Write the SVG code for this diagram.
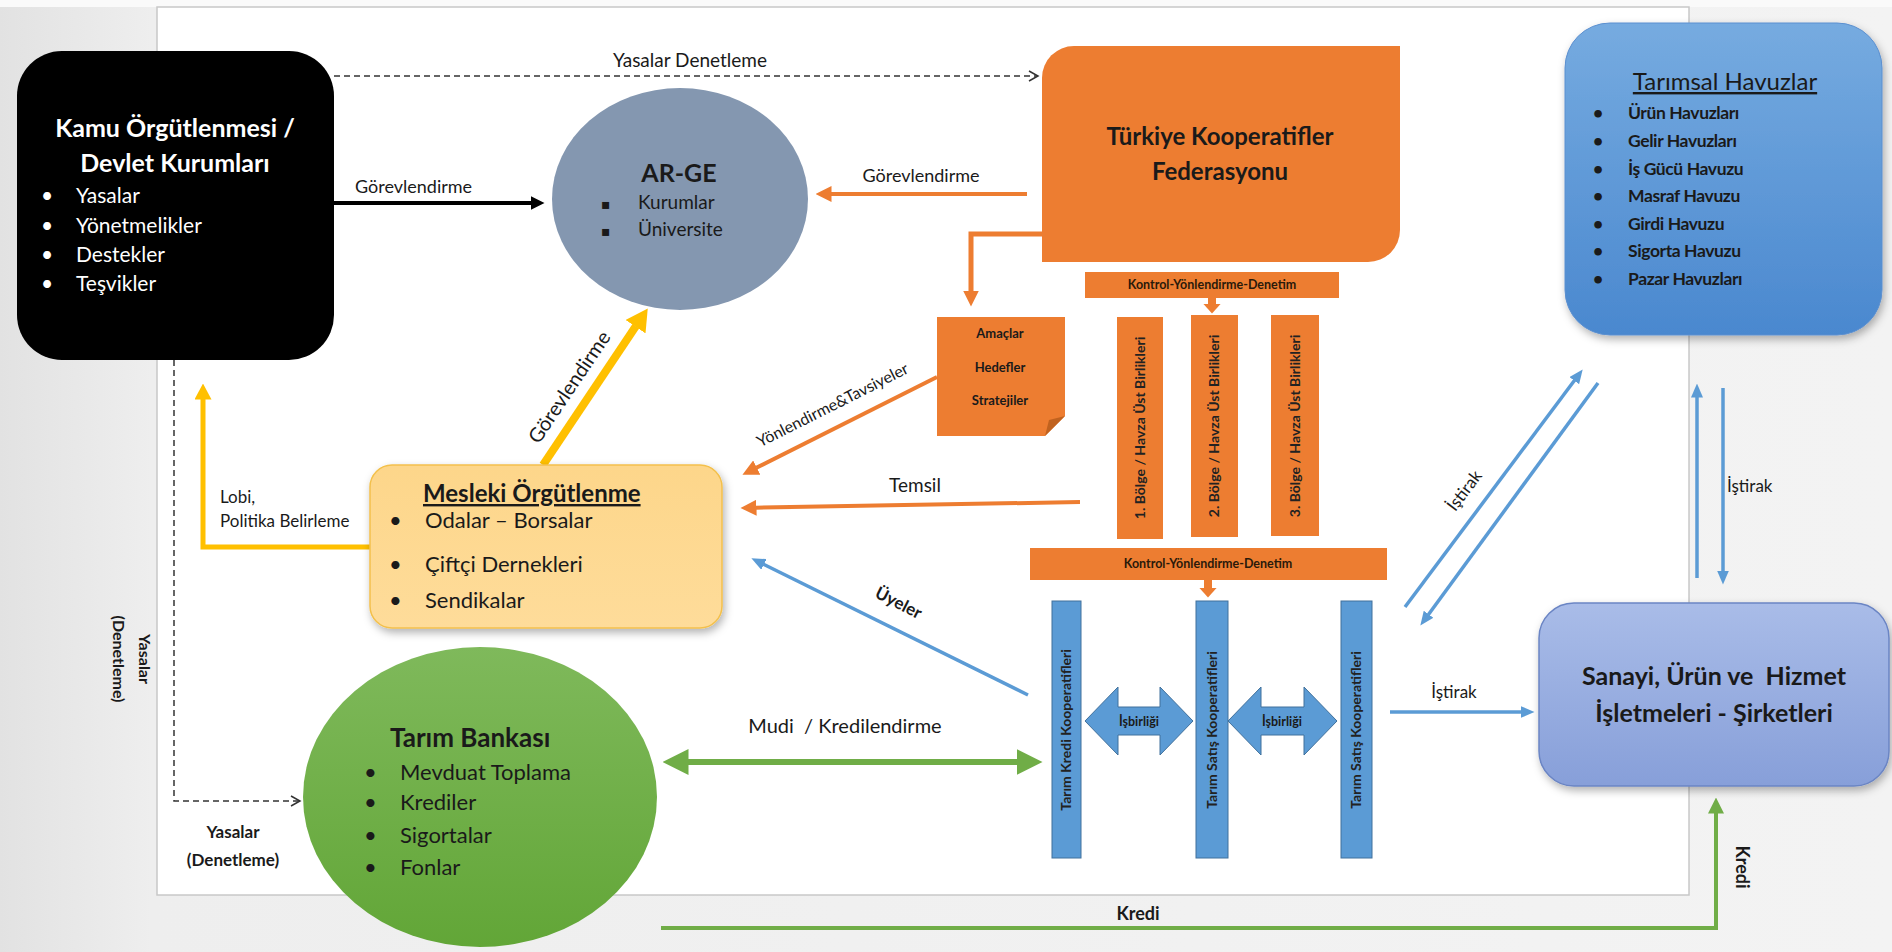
<svg xmlns="http://www.w3.org/2000/svg" width="1892" height="952" viewBox="0 0 1892 952">
<style>
text{font-family:Lato,"Liberation Sans","Noto Sans",sans-serif;fill:#1a1a1a}
.b{font-weight:bold}
.lbl{font-size:18px}
.wt{fill:#fff}
.bar{font-size:14px;font-weight:bold;fill:#222}
.kyd{font-size:12.5px;font-weight:bold;fill:#2a1a0a}
</style>
<defs>
<linearGradient id="bg" x1="0" y1="0" x2="1" y2="0"><stop offset="0" stop-color="#e2e2e2"/><stop offset="0.08" stop-color="#eeeeee"/><stop offset="1" stop-color="#f3f3f3"/></linearGradient>
<linearGradient id="gTar" x1="0" y1="0" x2="0" y2="1"><stop offset="0" stop-color="#76abe0"/><stop offset="1" stop-color="#4a88cf"/></linearGradient>
<linearGradient id="gSan" x1="0" y1="0" x2="0" y2="1"><stop offset="0" stop-color="#a9bce8"/><stop offset="1" stop-color="#879fd9"/></linearGradient>
<linearGradient id="gMes" x1="0" y1="0" x2="0" y2="1"><stop offset="0" stop-color="#fdd68a"/><stop offset="1" stop-color="#fedc9a"/></linearGradient>
<linearGradient id="gGreen" x1="0" y1="0" x2="0" y2="1"><stop offset="0" stop-color="#7fb95b"/><stop offset="1" stop-color="#62a637"/></linearGradient>
<filter id="sh" x="-10%" y="-10%" width="125%" height="130%"><feDropShadow dx="2" dy="4" stdDeviation="4" flood-color="#000" flood-opacity="0.3"/></filter>
<marker id="mBlack" markerUnits="userSpaceOnUse" markerWidth="14" markerHeight="14" refX="0.5" refY="7" orient="auto"><path d="M0,0 L14,7 L0,14 z" fill="#000"/></marker>
<marker id="mOrange" markerUnits="userSpaceOnUse" markerWidth="16" markerHeight="16" refX="0.5" refY="8" orient="auto"><path d="M0,0 L16,8 L0,16 z" fill="#ed7d31"/></marker>
<marker id="mOrangeS" markerUnits="userSpaceOnUse" markerWidth="10" markerHeight="18" refX="0.5" refY="9" orient="auto"><path d="M0,0 L10,9 L0,18 z" fill="#ed7d31"/></marker>
<marker id="mYellowB" markerUnits="userSpaceOnUse" markerWidth="22" markerHeight="24" refX="0.5" refY="12" orient="auto"><path d="M0,0 L22,12 L0,24 z" fill="#ffc000"/></marker>
<marker id="mYellow" markerUnits="userSpaceOnUse" markerWidth="16" markerHeight="17" refX="0.5" refY="8.5" orient="auto"><path d="M0,0 L16,8.5 L0,17 z" fill="#ffc000"/></marker>
<marker id="mBlue" markerUnits="userSpaceOnUse" markerWidth="14" markerHeight="12" refX="0.5" refY="6" orient="auto"><path d="M0,0 L14,6 L0,12 z" fill="#5b9bd5"/></marker>
<marker id="mGreenB" markerUnits="userSpaceOnUse" markerWidth="26" markerHeight="26" refX="0.5" refY="13" orient="auto-start-reverse"><path d="M0,0 L26,13 L0,26 z" fill="#70ad47"/></marker>
<marker id="mGreen" markerUnits="userSpaceOnUse" markerWidth="16" markerHeight="16" refX="0.5" refY="8" orient="auto"><path d="M0,0 L16,8 L0,16 z" fill="#70ad47"/></marker>
<marker id="mOpen" markerUnits="userSpaceOnUse" markerWidth="12" markerHeight="12" refX="10" refY="6" orient="auto"><path d="M1,1 L10,6 L1,11" fill="none" stroke="#333" stroke-width="1.5"/></marker>
</defs>

<rect x="0" y="0" width="1892" height="952" fill="url(#bg)"/>
<rect x="0" y="0" width="1892" height="7" fill="#fafafa"/>
<rect x="157" y="7" width="1532" height="888" fill="#fff" stroke="#c8c8c8" stroke-width="1.5"/>

<g id="connectors">
  <line x1="334" y1="76" x2="1038" y2="76" stroke="#333" stroke-width="1.5" stroke-dasharray="6 4" marker-end="url(#mOpen)"/>
  <line x1="334" y1="203" x2="531" y2="203" stroke="#000" stroke-width="4" marker-end="url(#mBlack)"/>
  <line x1="1027" y1="194" x2="831" y2="194" stroke="#ed7d31" stroke-width="4" marker-end="url(#mOrange)"/>
  <path d="M1042,234 H971 V291" fill="none" stroke="#ed7d31" stroke-width="5" marker-end="url(#mOrange)"/>
  <line x1="937" y1="377" x2="756.3" y2="467.8" stroke="#ed7d31" stroke-width="4" marker-end="url(#mOrange)"/>
  <line x1="1080" y1="502" x2="756" y2="507.7" stroke="#ed7d31" stroke-width="4" marker-end="url(#mOrange)"/>
  <line x1="1028" y1="695" x2="763.5" y2="564.2" stroke="#5b9bd5" stroke-width="3.5" marker-end="url(#mBlue)"/>
  <line x1="543" y1="465" x2="635.8" y2="326.3" stroke="#ffc000" stroke-width="8" marker-end="url(#mYellowB)"/>
  <path d="M370,547 H203 V399" fill="none" stroke="#ffc000" stroke-width="5" marker-end="url(#mYellow)"/>
  <path d="M174,360 V801 H300" fill="none" stroke="#333" stroke-width="1.5" stroke-dasharray="6 4" marker-end="url(#mOpen)"/>
  <line x1="688" y1="762" x2="1017" y2="762" stroke="#70ad47" stroke-width="6" marker-start="url(#mGreenB)" marker-end="url(#mGreenB)"/>
  <line x1="1212" y1="298" x2="1212" y2="304" stroke="#ed7d31" stroke-width="8" marker-end="url(#mOrangeS)"/>
  <line x1="1208" y1="580" x2="1208" y2="588" stroke="#ed7d31" stroke-width="8" marker-end="url(#mOrangeS)"/>
  <line x1="1390" y1="712" x2="1521" y2="712" stroke="#5b9bd5" stroke-width="3.5" marker-end="url(#mBlue)"/>
  <line x1="1405" y1="607" x2="1574.6" y2="380.2" stroke="#5b9bd5" stroke-width="3.5" marker-end="url(#mBlue)"/>
  <line x1="1598" y1="383" x2="1428.3" y2="614.7" stroke="#5b9bd5" stroke-width="3.5" marker-end="url(#mBlue)"/>
  <line x1="1697" y1="578" x2="1697" y2="397" stroke="#5b9bd5" stroke-width="3.5" marker-end="url(#mBlue)"/>
  <line x1="1723" y1="388" x2="1723" y2="571" stroke="#5b9bd5" stroke-width="3.5" marker-end="url(#mBlue)"/>
  <path d="M661,928 H1716 V813" fill="none" stroke="#70ad47" stroke-width="4" marker-end="url(#mGreen)"/>
  <g id="isbirligi">
    <polygon points="1085,721 1118,687 1118,707 1160,707 1160,687 1193,721 1160,755 1160,735 1118,735 1118,755" fill="#5b9bd5" stroke="#41719c" stroke-width="1"/>
    <polygon points="1228,721 1261,687 1261,707 1304,707 1304,687 1337,721 1304,755 1304,735 1261,735 1261,755" fill="#5b9bd5" stroke="#41719c" stroke-width="1"/>
    <text x="1139" y="726" class="b" font-size="12.5" text-anchor="middle">İşbirliği</text>
    <text x="1282" y="726" class="b" font-size="12.5" text-anchor="middle">İşbirliği</text>
  </g>
  <text x="690" y="67" font-size="19" text-anchor="middle">Yasalar Denetleme</text>
  <text x="355" y="193" class="lbl">Görevlendirme</text>
  <text x="921" y="182" class="lbl" font-size="19" text-anchor="middle">Görevlendirme</text>
  <text transform="translate(835,410) rotate(-26.7)" font-size="16" text-anchor="middle">Yönlendirme&amp;Tavsiyeler</text>
  <text x="915" y="492" font-size="19" text-anchor="middle">Temsil</text>
  <text transform="translate(896,608) rotate(27)" font-size="17" class="b" text-anchor="middle">Üyeler</text>
  <text transform="translate(575,391) rotate(-56)" font-size="20" text-anchor="middle">Görevlendirme</text>
  <text x="220" y="503" font-size="17">Lobi,</text>
  <text x="220" y="527" font-size="17">Politika Belirleme</text>
  <text transform="translate(139,659) rotate(90)" font-size="16" class="b" text-anchor="middle">Yasalar</text>
  <text transform="translate(113,659) rotate(90)" font-size="16" class="b" text-anchor="middle">(Denetleme)</text>
  <text x="233" y="838" font-size="17" class="b" text-anchor="middle">Yasalar</text>
  <text x="233" y="866" font-size="17" class="b" text-anchor="middle">(Denetleme)</text>
  <text x="845" y="733" font-size="20" text-anchor="middle" xml:space="preserve">Mudi  / Kredilendirme</text>
  <text x="1454" y="698" font-size="17" text-anchor="middle">İştirak</text>
  <text transform="translate(1469,494) rotate(-53)" font-size="17" text-anchor="middle">İştirak</text>
  <text x="1727" y="492" font-size="17">İştirak</text>
  <text x="1138" y="920" font-size="18" class="b" text-anchor="middle">Kredi</text>
  <text transform="translate(1736,867) rotate(90)" font-size="18" class="b" text-anchor="middle">Kredi</text>
</g>

<g id="kamu">
  <rect x="17" y="51" width="317" height="309" rx="45" fill="#000"/>
  <text x="175" y="137" font-size="25" class="b wt" text-anchor="middle">Kamu Örgütlenmesi /</text>
  <text x="175" y="172" font-size="25" class="b wt" text-anchor="middle">Devlet Kurumları</text>
  <g font-size="21">
    <text x="41" y="203" class="wt">•</text><text x="76" y="203" class="wt">Yasalar</text>
    <text x="41" y="233" class="wt">•</text><text x="76" y="233" class="wt">Yönetmelikler</text>
    <text x="41" y="262" class="wt">•</text><text x="76" y="262" class="wt">Destekler</text>
    <text x="41" y="291" class="wt">•</text><text x="76" y="291" class="wt">Teşvikler</text>
  </g>
</g>

<g id="arge">
  <ellipse cx="680" cy="199" rx="128" ry="111" fill="#8497b0"/>
  <text x="679" y="182" font-size="25" class="b" text-anchor="middle" fill="#1a1a2a">AR-GE</text>
  <text x="601" y="209" font-size="14" style="font-family:'DejaVu Sans',sans-serif" fill="#333">▪</text>
  <text x="638" y="209" font-size="19" fill="#333">Kurumlar</text>
  <text x="601" y="236" font-size="14" style="font-family:'DejaVu Sans',sans-serif" fill="#333">▪</text>
  <text x="638" y="236" font-size="19" fill="#333">Üniversite</text>
</g>

<g id="tkf">
  <path d="M1074,46 H1400 V230 A32,32 0 0 1 1368,262 H1042 V78 A32,32 0 0 1 1074,46 Z" fill="#ed7d31"/>
  <text x="1220" y="145" font-size="24" class="b" text-anchor="middle">Türkiye Kooperatifler</text>
  <text x="1220" y="180" font-size="24" class="b" text-anchor="middle">Federasyonu</text>
</g>

<g id="kontrol1">
  <rect x="1085" y="272" width="254" height="26" fill="#ed7d31"/>
  <text x="1212" y="289" class="kyd" text-anchor="middle">Kontrol-Yönlendirme-Denetim</text>
</g>

<g id="amaclar">
  <path d="M937,317 H1065 V416 L1045,436 H937 Z" fill="#ed7d31"/>
  <path d="M1045,436 L1049,420 L1065,416 Z" fill="#c0621f"/>
  <text x="1000" y="338" font-size="13" class="b" text-anchor="middle">Amaçlar</text>
  <text x="1000" y="372" font-size="13" class="b" text-anchor="middle">Hedefler</text>
  <text x="1000" y="405" font-size="13" class="b" text-anchor="middle">Stratejiler</text>
</g>

<g id="bolge1">
  <rect x="1117" y="317" width="46" height="222" fill="#ed7d31"/>
  <text transform="translate(1145,428) rotate(-90)" class="bar" text-anchor="middle">1. Bölge / Havza Üst Birlikleri</text>
</g>
<g id="bolge2">
  <rect x="1191" y="315" width="47" height="222" fill="#ed7d31"/>
  <text transform="translate(1219,426) rotate(-90)" class="bar" text-anchor="middle">2. Bölge / Havza Üst Birlikleri</text>
</g>
<g id="bolge3">
  <rect x="1271" y="315" width="48" height="221" fill="#ed7d31"/>
  <text transform="translate(1300,426) rotate(-90)" class="bar" text-anchor="middle">3. Bölge / Havza Üst Birlikleri</text>
</g>

<g id="kontrol2">
  <rect x="1030" y="548" width="357" height="32" fill="#ed7d31"/>
  <text x="1208" y="568" class="kyd" text-anchor="middle">Kontrol-Yönlendirme-Denetim</text>
</g>

<g id="kredikoop">
  <rect x="1052" y="601" width="29" height="257" fill="#5b9bd5" stroke="#41719c" stroke-width="1"/>
  <text transform="translate(1071,730) rotate(-90)" class="bar" font-size="13.5" text-anchor="middle">Tarım Kredi Kooperatifleri</text>
</g>
<g id="satiskoop1">
  <rect x="1196" y="601" width="32" height="257" fill="#5b9bd5" stroke="#41719c" stroke-width="1"/>
  <text transform="translate(1217,730) rotate(-90)" class="bar" font-size="13.5" text-anchor="middle">Tarım Satış Kooperatifleri</text>
</g>
<g id="satiskoop2">
  <rect x="1341" y="601" width="31" height="257" fill="#5b9bd5" stroke="#41719c" stroke-width="1"/>
  <text transform="translate(1361,730) rotate(-90)" class="bar" font-size="13.5" text-anchor="middle">Tarım Satış Kooperatifleri</text>
</g>

<g id="mesleki">
  <rect x="370" y="465" width="352" height="163" rx="22" fill="url(#gMes)" stroke="#f3c04c" stroke-width="1.5" filter="url(#sh)"/>
  <text x="423" y="502" font-size="24" class="b" text-decoration="underline">Mesleki Örgütlenme</text>
  <g font-size="22" fill="#222">
    <text x="389" y="528">•</text><text x="425" y="528">Odalar – Borsalar</text>
    <text x="389" y="572">•</text><text x="425" y="572">Çiftçi Dernekleri</text>
    <text x="389" y="608">•</text><text x="425" y="608">Sendikalar</text>
  </g>
</g>

<g id="tarimbankasi">
  <ellipse cx="480" cy="797" rx="177" ry="150" fill="url(#gGreen)"/>
  <text x="390" y="747" font-size="26" class="b">Tarım Bankası</text>
  <g font-size="22">
    <text x="364" y="780">•</text><text x="400" y="780">Mevduat Toplama</text>
    <text x="364" y="810">•</text><text x="400" y="810">Krediler</text>
    <text x="364" y="843">•</text><text x="400" y="843">Sigortalar</text>
    <text x="364" y="875">•</text><text x="400" y="875">Fonlar</text>
  </g>
</g>

<g id="tarimsal">
  <rect x="1565" y="23" width="317" height="312" rx="45" fill="url(#gTar)" stroke="#5b8fcf" stroke-width="1" filter="url(#sh)"/>
  <text x="1725" y="90" font-size="24" text-anchor="middle" text-decoration="underline" fill="#111">Tarımsal Havuzlar</text>
  <g font-size="17.5" class="b" letter-spacing="-0.4">
    <text x="1593" y="119" fill="#0f1a40">•</text><text x="1628" y="119" fill="#0f1a40">Ürün Havuzları</text>
    <text x="1593" y="147" fill="#0f1a40">•</text><text x="1628" y="147" fill="#0f1a40">Gelir Havuzları</text>
    <text x="1593" y="175" fill="#0f1a40">•</text><text x="1628" y="175" fill="#0f1a40">İş Gücü Havuzu</text>
    <text x="1593" y="202" fill="#0f1a40">•</text><text x="1628" y="202" fill="#0f1a40">Masraf Havuzu</text>
    <text x="1593" y="230" fill="#0f1a40">•</text><text x="1628" y="230" fill="#0f1a40">Girdi Havuzu</text>
    <text x="1593" y="257" fill="#0f1a40">•</text><text x="1628" y="257" fill="#0f1a40">Sigorta Havuzu</text>
    <text x="1593" y="285" fill="#0f1a40">•</text><text x="1628" y="285" fill="#0f1a40">Pazar Havuzları</text>
  </g>
</g>

<g id="sanayi">
  <rect x="1539" y="603" width="350" height="183" rx="35" fill="url(#gSan)" stroke="#6b85c4" stroke-width="1.5" filter="url(#sh)"/>
  <text x="1714" y="685" font-size="25" class="b" text-anchor="middle" fill="#1c1c3a" xml:space="preserve">Sanayi, Ürün ve  Hizmet</text>
  <text x="1714" y="722" font-size="25" class="b" text-anchor="middle" fill="#1c1c3a">İşletmeleri - Şirketleri</text>
</g>
</svg>
